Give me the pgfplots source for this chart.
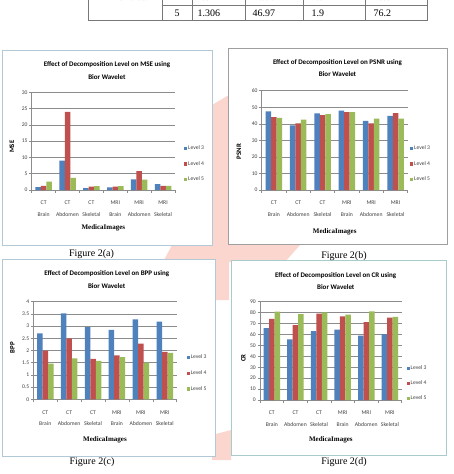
\documentclass[border=0pt]{standalone}
\usepackage{fontspec}
\setmainfont{Liberation Serif}
\newfontfamily\calfont{Carlito}
\usepackage{pgfplots}
\usepackage{pgfplotstable}
\pgfplotsset{compat=1.18}
\definecolor{xblue}{HTML}{4F81BD}
\definecolor{xred}{HTML}{C0504D}
\definecolor{xgreen}{HTML}{9BBB59}
\definecolor{gridc}{HTML}{8C8C8C}
\definecolor{pinkw}{RGB}{250,214,206}
\definecolor{frameA}{RGB}{178,200,214}
\definecolor{frameD}{RGB}{168,204,204}
\definecolor{tabline}{RGB}{120,120,120}

\pgfplotstableread{
idx L3 L4 L5
0 0.85 1.25 2.55
1 9.0 24.0 3.7
2 0.6 1.0 1.2
3 0.8 1.05 1.2
4 3.3 5.8 3.2
5 1.8 1.3 1.306
}\msetab
\pgfplotstableread{
idx L3 L4 L5
0 47.5 44.0 43.6
1 39.0 40.3 42.5
2 46.3 45.2 45.8
3 48.0 47.0 47.0
4 41.8 40.3 43.1
5 44.8 46.4 43.1
}\psnrtab
\pgfplotstableread{
idx L3 L4 L5
0 2.70 2.00 1.46
1 3.52 2.50 1.68
2 2.96 1.66 1.58
3 2.85 1.80 1.73
4 3.28 2.28 1.50
5 3.18 1.94 1.90
}\bpptab
\pgfplotstableread{
idx L3 L4 L5
0 65.8 74.3 81.0
1 55.5 68.5 78.6
2 63.0 79.0 80.2
3 64.4 76.6 78.2
4 59.0 71.3 81.2
5 60.3 75.5 76.2
}\crtab

\pgfplotsset{
 sqlegend/.style={legend image code/.code={\fill[##1] (0pt,-1.6pt) rectangle (3.2pt,1.6pt);}},
 excel/.style={
  scale only axis,
  ybar=0pt, bar width=5.5pt,
  xmin=-0.5, xmax=5.5, ymin=0,
  axis lines*=left,
  axis line style={gridc, line width=0.5pt},
  xtick={0,...,5},
  xticklabels={{CT\\Brain},{CT\\Abdomen},{CT\\Skeletal},{MRI\\Brain},{MRI\\Abdomen},{MRI\\Skeletal}},
  major x tick style={draw=none},
  minor xtick={-0.5,0.5,1.5,2.5,3.5,4.5,5.5},
  minor x tick style={gridc, line width=0.5pt},
  minor tick length=3pt,
  major tick length=2.5pt,
  tick align=outside,
  y tick style={gridc, line width=0.5pt},
  ymajorgrids,
  major grid style={gridc, line width=0.45pt},
  /pgf/number format/assume math mode=true,
  yticklabel style={font=\calfont\fontsize{5.6}{6}\selectfont, inner sep=0pt, xshift=-1.5pt, text=black!75},
  xticklabel style={align=center, font=\calfont\fontsize{5.7}{11.6}\selectfont, inner sep=0pt, text=black!75},
  xticklabel shift=8.5pt,
  legend cell align=left,
  legend style={draw=none, fill=none, anchor=west, font=\calfont\fontsize{5.6}{6}\selectfont,
     inner sep=0pt, row sep=8.7pt, nodes={inner sep=0.8pt, text=black!75}},
  every axis plot post/.append style={sqlegend},
  title style={align=center, font=\calfont\bfseries\fontsize{7}{12.4}\selectfont, anchor=center},
  xlabel style={font=\bfseries\fontsize{7}{8}\selectfont, anchor=center},
  ylabel style={font=\calfont\bfseries\fontsize{6.8}{7}\selectfont, anchor=center},
  xlabel={MedicaImages},
 },
}

\begin{document}
\begin{tikzpicture}
\useasboundingbox (0pt,0pt) rectangle (453pt,-474pt);
\clip (0pt,0pt) rectangle (453pt,-474pt);
% watermark
\fill[pinkw] (212pt,-105pt) -- (229pt,-95pt) -- (229pt,-300pt) -- (212pt,-300pt) -- cycle;
\fill[pinkw] (163pt,-262pt) -- (172pt,-245pt) -- (300pt,-245pt) -- (285pt,-262pt) -- cycle;
\fill[pinkw] (212pt,-435pt) -- (231pt,-430pt) -- (231pt,-460pt) -- (212pt,-460pt) -- cycle;
% frames
\filldraw[fill=white, draw=frameA, line width=0.6pt] (2pt,-50pt) rectangle (212pt,-245pt);
\filldraw[fill=white, draw=gray!75, line width=0.7pt] (228pt,-48pt) rectangle (447pt,-244pt);
\filldraw[fill=white, draw=frameA, line width=0.6pt] (2pt,-259pt) rectangle (215pt,-456pt);
\filldraw[fill=white, draw=frameD, line width=0.6pt] (231pt,-260pt) rectangle (446pt,-455pt);
% table fragment
\draw[tabline, line width=0.7pt] (88.3pt,10pt) -- (88.3pt,-20pt) -- (427.7pt,-20pt) -- (427.7pt,10pt);
\draw[tabline, line width=0.6pt] (162.3pt,-5pt) -- (427.7pt,-5pt);
\foreach \xx in {162.3,192.3,245,303.3,365.7} {\draw[tabline, line width=0.6pt] (\xx pt,10pt) -- (\xx pt,-20pt);}
\node[anchor=west, font=\fontsize{10}{12}\selectfont] at (94pt,3pt) {MRI Skeletal};
\node[font=\fontsize{10}{12}\selectfont] at (177pt,3pt) {4};
\node[anchor=west, font=\fontsize{10}{12}\selectfont] at (194pt,3pt) {1.3};
\node[anchor=west, font=\fontsize{10}{12}\selectfont] at (249pt,3pt) {46.96};
\node[anchor=west, font=\fontsize{10}{12}\selectfont] at (308pt,3pt) {1.94};
\node[anchor=west, font=\fontsize{10}{12}\selectfont] at (370pt,3pt) {75.5};
\node[font=\fontsize{10}{12}\selectfont] at (177pt,-13pt) {5};
\node[anchor=west, font=\fontsize{10}{12}\selectfont] at (194pt,-13pt) {1.306};
\node[anchor=west, font=\fontsize{10}{12}\selectfont] at (249pt,-13pt) {46.97};
\node[anchor=west, font=\fontsize{10}{12}\selectfont] at (308pt,-13pt) {1.9};
\node[anchor=west, font=\fontsize{10}{12}\selectfont] at (370pt,-13pt) {76.2};

% (a) MSE
\begin{axis}[excel, at={(31.7pt,-190pt)}, anchor=south west, width=143.3pt, height=97.7pt,
  ymax=30, ytick={0,5,...,30},
  title={Effect of Decomposition Level on MSE using\\Bior Wavelet},
  title style={at={(axis description cs:0.5,1)}, xshift=3.6pt, yshift=15.8pt},
  ylabel={MSE}, ylabel style={at={(axis description cs:-0.1375,0.443)}},
  xlabel style={at={(axis description cs:0.5,0)}, yshift=-38pt},
  legend style={at={(axis description cs:1.063,0.266)}}]
\addplot[fill=xblue, draw=none] table[x=idx, y=L3] {\msetab};
\addplot[fill=xred, draw=none] table[x=idx, y=L4] {\msetab};
\addplot[fill=xgreen, draw=none] table[x=idx, y=L5] {\msetab};
\legend{Level 3, Level 4, Level 5}
\end{axis}

% (b) PSNR
\begin{axis}[excel, at={(261.7pt,-190pt)}, anchor=south west, width=146pt, height=99.3pt,
  ymax=60, ytick={0,10,...,60},
  extra y ticks={50}, extra y tick labels={},
  extra y tick style={grid style={black!80, line width=0.6pt}},
  title={Effect of Decomposition Level on PSNR using\\Bior Wavelet},
  title style={at={(axis description cs:0.5,1)}, xshift=2.8pt, yshift=16.5pt},
  ylabel={PSNR}, ylabel style={at={(axis description cs:-0.1555,0.386)}},
  xlabel style={at={(axis description cs:0.5,0)}, yshift=-41.7pt},
  legend style={at={(axis description cs:1.016,0.262)}}]
\addplot[fill=xblue, draw=none] table[x=idx, y=L3] {\psnrtab};
\addplot[fill=xred, draw=none] table[x=idx, y=L4] {\psnrtab};
\addplot[fill=xgreen, draw=none] table[x=idx, y=L5] {\psnrtab};
\legend{Level 3, Level 4, Level 5}
\end{axis}

% (c) BPP
\begin{axis}[excel, at={(33.3pt,-399.3pt)}, anchor=south west, width=143.4pt, height=97.6pt,
  ymax=4, ytick={0,0.5,...,4},
  title={Effect of Decomposition Level on BPP using\\Bior Wavelet},
  title style={at={(axis description cs:0.5,1)}, xshift=1.7pt, yshift=16pt},
  ylabel={BPP}, ylabel style={at={(axis description cs:-0.1464,0.531)}},
  xlabel style={at={(axis description cs:0.5,0)}, yshift=-40.7pt},
  legend style={at={(axis description cs:1.069,0.266)}}]
\addplot[fill=xblue, draw=none] table[x=idx, y=L3] {\bpptab};
\addplot[fill=xred, draw=none] table[x=idx, y=L4] {\bpptab};
\addplot[fill=xgreen, draw=none] table[x=idx, y=L5] {\bpptab};
\legend{Level 3, Level 4, Level 5}
\end{axis}

% (d) CR
\begin{axis}[excel, at={(260pt,-400pt)}, anchor=south west, width=141.7pt, height=98.3pt,
  ymax=90, ytick={0,10,...,90},
  extra y ticks={80}, extra y tick labels={},
  extra y tick style={grid style={black!75, line width=0.6pt}},
  title={Effect of Decomposition Level on CR using\\Bior Wavelet},
  title style={at={(axis description cs:0.5,1)}, xshift=4.9pt, yshift=14.8pt},
  ylabel={CR}, ylabel style={at={(axis description cs:-0.1179,0.427)}},
  xlabel style={at={(axis description cs:0.5,0)}, yshift=-40pt},
  legend style={at={(axis description cs:1.034,0.17)}, row sep=8pt}]
\addplot[fill=xblue, draw=none] table[x=idx, y=L3] {\crtab};
\addplot[fill=xred, draw=none] table[x=idx, y=L4] {\crtab};
\addplot[fill=xgreen, draw=none] table[x=idx, y=L5] {\crtab};
\legend{Level 3, Level 4, Level 5}
\end{axis}

% captions
\node[font=\fontsize{10}{12}\selectfont] at (91.5pt,-254pt) {Figure 2(a)};
\node[font=\fontsize{10}{12}\selectfont] at (344pt,-256.5pt) {Figure 2(b)};
\node[font=\fontsize{10}{12}\selectfont] at (92pt,-462pt) {Figure 2(c)};
\node[font=\fontsize{10}{12}\selectfont] at (344pt,-462pt) {Figure 2(d)};
\end{tikzpicture}
\end{document}
